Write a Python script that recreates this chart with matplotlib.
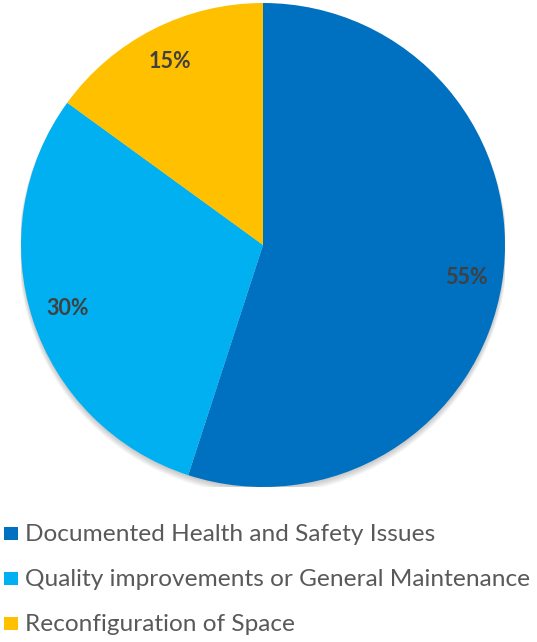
import matplotlib.pyplot as plt
from matplotlib.patches import Circle, Rectangle

# Data
categories = ["Documented Health and Safety Issues",
              "Quality improvements or General Maintenance",
              "Reconfiguration of Space"]
shares = [55, 30, 15]
colors = ["#0070C0", "#00B0F0", "#FFC000"]

W, H = 537, 642
fig = plt.figure(figsize=(W / 100, H / 100), dpi=100)

# pie placed by pixel centre / radius
cx, cy, r = 263, 245, 242
ax = fig.add_axes([(cx - r) / W, (H - cy - r) / H, 2 * r / W, 2 * r / H])

# soft shadow under the pie
for k in range(6):
    ax.add_patch(Circle((0, -0.006 - 0.003 * k), 1.0 + 0.002 * k,
                        facecolor="black", alpha=0.035, edgecolor="none",
                        zorder=0))

wedges, texts, autotexts = ax.pie(
    shares, colors=colors, startangle=90, counterclock=False,
    autopct="%d%%", pctdistance=0.85, radius=1.0,
    wedgeprops=dict(zorder=2),
    textprops=dict(fontfamily="Lato", fontweight="bold", fontsize=15.5, color="#404040"))
for t in autotexts:
    t.set_zorder(3)
ax.set_xlim(-1, 1)
ax.set_ylim(-1, 1)
ax.set_aspect("equal")
ax.axis("off")

# legend, one row per category
for i, (lab, c) in enumerate(zip(categories, colors)):
    base = 541 + 45 * i
    fig.patches.append(Rectangle((4 / W, (H - base + 1) / H), 14 / W, 13 / H,
                                 facecolor=c, edgecolor="none",
                                 transform=fig.transFigure))
    fig.text(25 / W, (H - base) / H, lab, family="Lato", fontsize=17.6,
             color="#595959", va="baseline", ha="left")

fig.savefig("out.png", dpi=100)
